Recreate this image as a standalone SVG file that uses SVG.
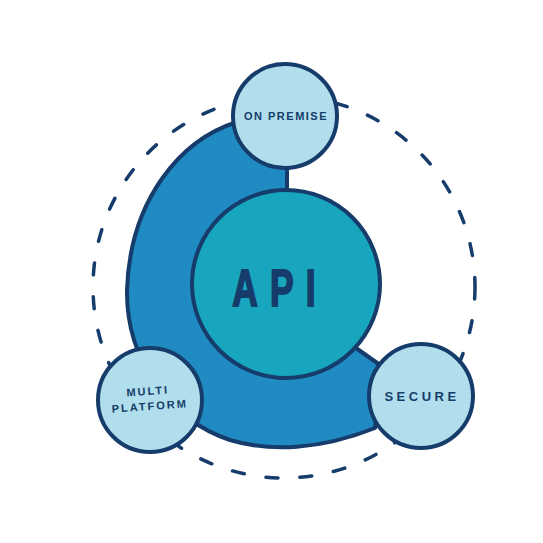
<svg xmlns="http://www.w3.org/2000/svg" width="543" height="543" viewBox="0 0 543 543">
<style>
.ol{stroke:#153c6b;stroke-width:4;stroke-linejoin:round;stroke-linecap:round}
.sat{fill:#b1deec}
.lbl{font-family:"Liberation Sans",Arial,sans-serif;font-weight:bold;fill:#153c6b;text-anchor:middle}
</style>
<rect width="543" height="543" fill="#ffffff"/>
<g id="connectors">
<circle cx="284" cy="287" r="191" fill="none" stroke="#153c6b" stroke-width="3.5" stroke-dasharray="12 22" stroke-linecap="round"/>
<path id="band" class="ol" fill="#1f8bc2" d="M 237 122 C 180 140 130 200 127 290 C 126 360 170 420 230 440 C 270 452 320 450 375 428 L 380 365 L 356 348 L 287 200 L 287 168 Z"/>
</g>
<g id="api">
<circle class="ol" cx="286" cy="284" r="94" fill="#18a6bf" stroke-width="5"/>
<text class="lbl" x="0" y="0" transform="translate(280 306) scale(0.68 1)" font-size="52" letter-spacing="18" font-weight="normal" stroke="#153c6b" stroke-width="2">API</text>
</g>
<g id="on-premise">
<circle class="ol sat" cx="285" cy="116" r="52"/>
<text class="lbl" x="286" y="120" font-size="11" letter-spacing="1.5">ON PREMISE</text>
</g>
<g id="multi-platform">
<circle class="ol sat" cx="150" cy="400" r="52"/>
<text class="lbl" x="148" y="395" font-size="11" letter-spacing="2" transform="rotate(-4 148 395)">MULTI</text>
<text class="lbl" x="150" y="410" font-size="11" letter-spacing="2" transform="rotate(-4 150 410)">PLATFORM</text>
</g>
<g id="secure">
<circle class="ol sat" cx="421" cy="396" r="52"/>
<text class="lbl" x="422" y="401" font-size="13" letter-spacing="3.5">SECURE</text>
</g>
</svg>
